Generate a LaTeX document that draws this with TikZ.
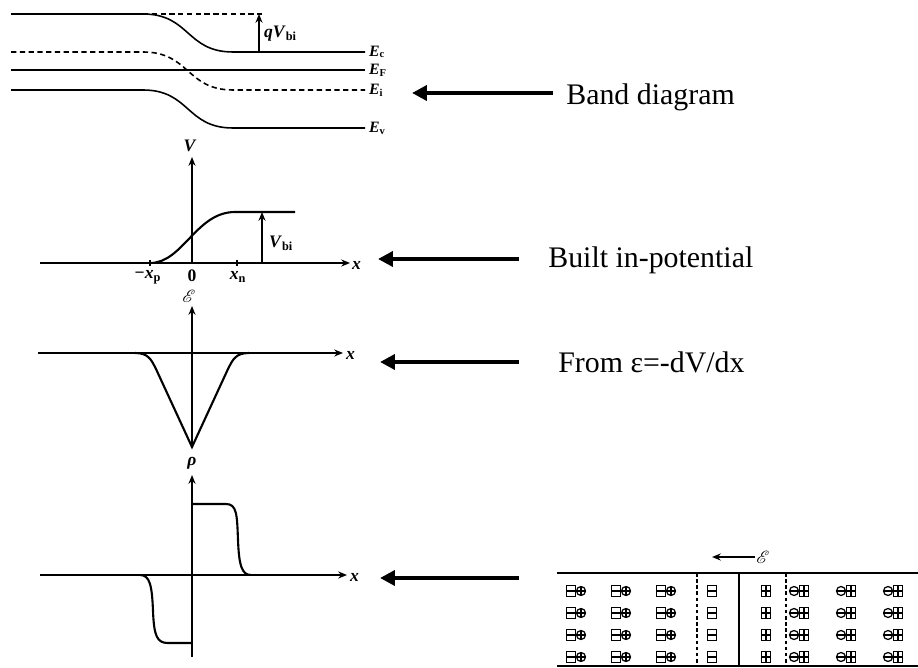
\documentclass[tikz,border=0pt]{standalone}
\usepackage{fontspec}
\setmainfont{Liberation Serif}
\usepackage{mathrsfs}
\usetikzlibrary{arrows.meta}
\newcommand{\elab}[2]{\textbf{\textit{#1}}\textsubscript{\textbf{#2}}}
\tikzset{
  boxm/.pic={\draw[sym] (-4.6,-5.5) rectangle (4.6,5.5); \draw[sym] (-4.6,0) -- (4.6,0);},
  boxp/.pic={\draw[sym] (-4.6,-5.5) rectangle (4.6,5.5); \draw[sym] (-4.6,0) -- (4.6,0) (0,-5.5) -- (0,5.5);},
  circp/.pic={\draw[sym] (0,0) circle[radius=4.5]; \draw[sym] (-4.5,0) -- (4.5,0) (0,-4.5) -- (0,4.5);},
  circm/.pic={\draw[sym] (0,0) circle[radius=4.5]; \draw[sym] (-4.5,0) -- (4.5,0);}
}
\begin{document}
\begin{tikzpicture}[x=0.02cm,y=-0.02cm,
  band/.style={line width=0.9pt},
  bandd/.style={line width=0.9pt, dash pattern=on 3pt off 2pt},
  axis/.style={line width=0.8pt,-{Stealth[length=5pt,width=4pt]}},
  curve/.style={line width=1.2pt},
  bigarrow/.style={line width=2.6pt,-{Triangle[length=8.5pt,width=8.5pt]}},
  caption/.style={font=\fontsize{17}{20}\selectfont, anchor=base west, inner sep=0pt},
  lab/.style={font=\fontsize{9}{10}\selectfont, inner sep=1pt},
  alab/.style={font=\fontsize{10}{11}\selectfont, inner sep=1pt},
  sym/.style={line width=0.7pt},
  dline/.style={line width=0.8pt, dash pattern=on 2pt off 1.5pt}
]
\useasboundingbox (0,0) rectangle (918,668);

% ---------- band diagram ----------
\draw[band] (11,14) -- (143,14) .. controls (190,14) and (186,52) .. (233,52) -- (365,52);
\draw[bandd] (143,14) -- (265,14);
\draw[band] (11,70) -- (365,70);
\draw[bandd] (11,52) -- (143,52) .. controls (190,52) and (186,90) .. (233,90) -- (365,90);
\draw[band] (11,90) -- (143,90) .. controls (190,90) and (186,128) .. (233,128) -- (365,128);
\coordinate (qb) at (259,52);
\coordinate (qt) at (259,14);
\draw[axis] (qb) -- (qt);
\node[alab, anchor=west] (qv) at (262,34) {\textbf{\textit{qV}}\textsubscript{\textbf{bi}}};
\node[lab, anchor=west] (ec) at (367,52) {\elab{E}{c}};
\node[lab, anchor=west] (ef) at (367,70) {\elab{E}{F}};
\node[lab, anchor=west] (ei) at (367,90) {\elab{E}{i}};
\node[lab, anchor=west] (ev) at (367,128) {\elab{E}{v}};

% ---------- potential ----------
\node[alab] (vl) at (190,146) {\textbf{\textit{V}}};
\coordinate (v0) at (192,263);
\coordinate (vt) at (192,157);
\draw[axis] (v0) -- (vt);
\coordinate (vxl) at (40,263);
\coordinate (vxr) at (350,263);
\draw[axis] (vxl) -- (vxr);
\node[alab, anchor=west] (vx) at (350,265) {\textbf{\textit{x}}};
\draw[line width=0.8pt] (150,260) -- (150,266) (237,260) -- (237,266);
\node[alab] (xp) at (148,277) {\textbf{−\textit{x}}\textsubscript{\textbf{p}}};
\node[alab] (x0) at (192,276) {\textbf{0}};
\node[alab] (xn) at (238,277) {\textbf{\textit{x}}\textsubscript{\textbf{n}}};
\draw[curve] (150,263) .. controls (183,263) and (196,212) .. (235,212) -- (295,212);
\coordinate (vbb) at (262,263);
\coordinate (vbt) at (262,212);
\draw[axis] (vbb) -- (vbt);
\node[alab, anchor=west] (vbi) at (267,243) {\textbf{\textit{V}}\textsubscript{\textbf{bi}}};

% ---------- field ----------
\node[alab, inner sep=0pt] (el) at (189,296) {$\mathscr{E}$};
\coordinate (e0) at (192,447);
\coordinate (et) at (192,306);
\draw[axis] (e0) -- (et);
\coordinate (exl) at (38,353);
\coordinate (exr) at (343,353);
\draw[axis] (exl) -- (exr);
\node[alab, anchor=west] (ex) at (344,355) {\textbf{\textit{x}}};
\draw[curve] (135,353) .. controls (148,353) and (151,359) .. (156,369) -- (192,447) -- (228,369) .. controls (233,359) and (236,353) .. (249,353);

% ---------- charge ----------
\node[alab] (rl) at (192,463) {\textbf{\textit{ρ}}};
\coordinate (r0) at (192,657);
\coordinate (rt) at (192,475);
\draw[axis] (r0) -- (rt);
\coordinate (rxl) at (40,575);
\coordinate (rxr) at (347,575);
\draw[axis] (rxl) -- (rxr);
\node[alab, anchor=west] (rx) at (348,577) {\textbf{\textit{x}}};
\draw[curve] (192,504) -- (226,504) .. controls (237,504) and (237,515) .. (238,540) .. controls (239,566) and (242,575) .. (251,575);
\draw[curve] (140,575) .. controls (150,575) and (152,586) .. (153,611) .. controls (154,636) and (157,643) .. (168,643) -- (192,643);

% ---------- big arrows and captions ----------
\coordinate (a1s) at (553,93);  \coordinate (a1e) at (412,93);
\coordinate (a2s) at (519,259); \coordinate (a2e) at (378,259);
\coordinate (a3s) at (519,362); \coordinate (a3e) at (380,362);
\coordinate (a4s) at (519,578); \coordinate (a4e) at (380,578);
\draw[bigarrow] (a1s) -- (a1e);
\draw[bigarrow] (a2s) -- (a2e);
\draw[bigarrow] (a3s) -- (a3e);
\draw[bigarrow] (a4s) -- (a4e);
\node[caption] (c1) at (566,105) {Band diagram};
\node[caption] (c2) at (548,268) {Built in-potential};
\node[caption] (c3) at (558,372) {From ε=-dV/dx};

% ---------- junction lattice ----------
\draw[line width=1.1pt] (557,573) -- (918,573);
\draw[line width=1.1pt] (557,666) -- (918,666);
\draw[line width=0.9pt] (739,573) -- (739,666);
\draw[dline] (697,573) -- (697,666);
\draw[dline] (786,573) -- (786,666);
\foreach \yy in {591,613,635,657} {
  \foreach \xx in {571,616,661} {
    \pic at (\xx,\yy) {boxm};
    \pic at (\xx+10,\yy) {circp};
  }
  \pic at (712,\yy) {boxm};
  \pic at (766,\yy) {boxp};
  \foreach \xx in {794,841,888} {
    \pic at (\xx,\yy) {circm};
    \pic at (\xx+10,\yy) {boxp};
  }
}
\coordinate (fs) at (755,557);
\coordinate (fe) at (712,557);
\draw[axis] (fs) -- (fe);
\node[alab] (fl) at (763,557) {$\mathscr{E}$};
\end{tikzpicture}
\end{document}
